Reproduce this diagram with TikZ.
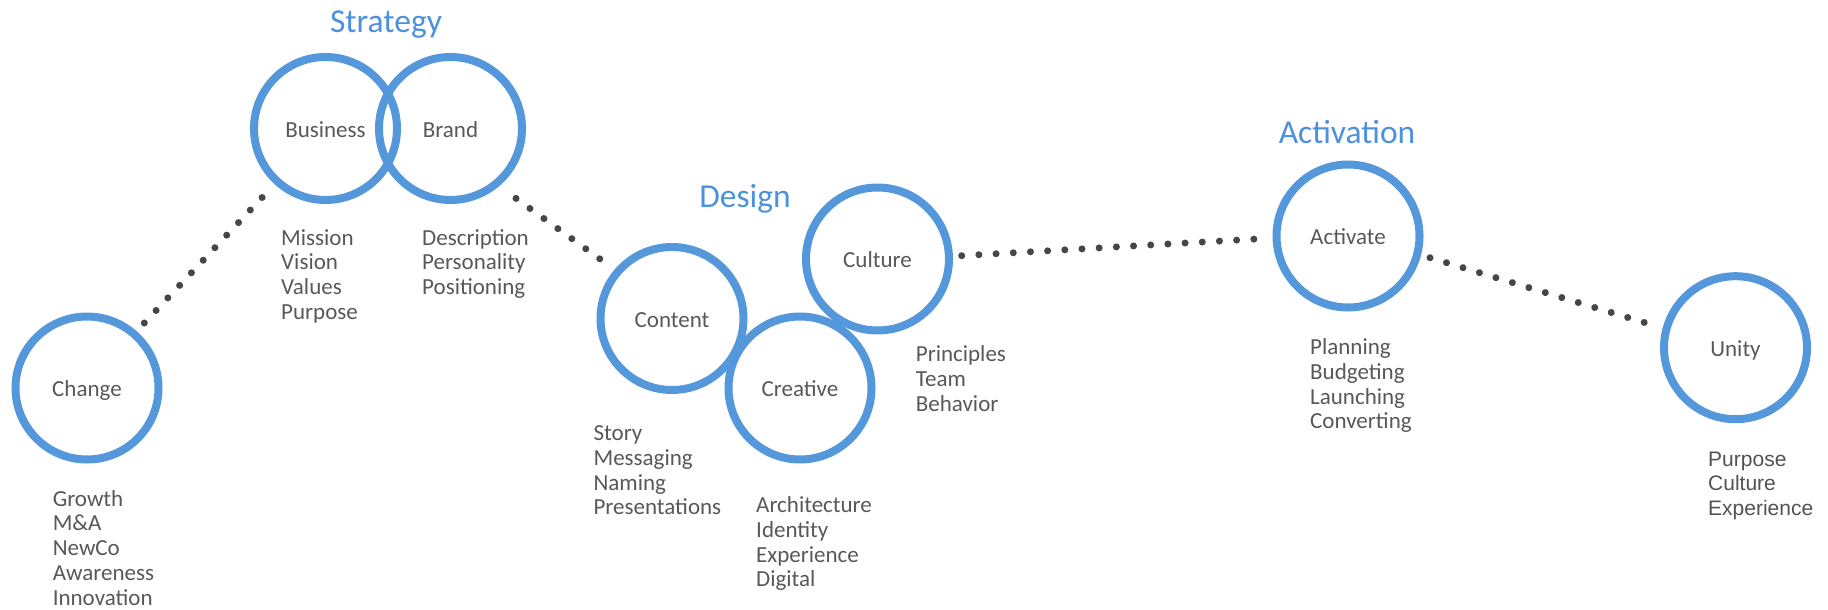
\documentclass[tikz,border=0pt]{standalone}
\usepackage{fontspec}
\setmainfont{Carlito}
\newfontfamily\uarial{Liberation Sans}
\usetikzlibrary{calc}
\definecolor{ringblue}{RGB}{84,152,219}
\definecolor{titleblue}{RGB}{76,145,222}
\definecolor{txtgray}{RGB}{88,88,88}
\definecolor{dotgray}{RGB}{70,70,70}
\begin{document}
\begin{tikzpicture}[x=1pt,y=-1pt,
  ring/.style={circle, draw=ringblue, line width=8pt, minimum size=143pt, inner sep=0pt,
    text=txtgray, font=\fontsize{23}{25}\selectfont, text height=17.6pt, text depth=0pt},
  sectitle/.style={anchor=base, text=titleblue, font=\fontsize{33.5}{36}\selectfont, inner sep=0pt},
  items/.style={anchor=north west, align=left, text=txtgray, font=\fontsize{23}{24.7}\selectfont, inner sep=0pt},
  dotline/.style={draw=dotgray, line width=7pt, line cap=round, dash pattern=on 0.01pt off 17.2pt}
]
\useasboundingbox (0,0) rectangle (1828,610);

% circles
\node[ring] (change)   at (87,388)     {Change};
\node[ring] (business) at (325.5,128.5) {Business};
\node[ring] (brand)    at (450.5,128.5) {Brand};
\node[ring] (content)  at (672,318.5)  {Content};
\node[ring] (creative) at (800,388)    {Creative};
\node[ring] (culture)  at (877.5,259)  {Culture};
\node[ring] (activate) at (1348,236)   {Activate};
\node[ring] (unity)    at (1735.5,347.7) {Unity};

% titles
\node[sectitle] (tstrategy)   at (386,32.5)  {Strategy};
\node[sectitle] (tdesign)     at (745,207)   {Design};
\node[sectitle] (tactivation) at (1347,143)  {Activation};

% lists
\node[items] (lchange)   at (52.6,488)  {\rule{0pt}{18pt}Growth\\M\&A\\NewCo\\Awareness\\Innovation};
\node[items] (lbusiness) at (281,227)   {\rule{0pt}{18pt}Mission\\Vision\\Values\\Purpose};
\node[items] (lbrand)    at (422,227)   {\rule{0pt}{18pt}Description\\Personality\\Positioning};
\node[items] (lcontent)  at (593.4,422.5) {\rule{0pt}{18pt}Story\\Messaging\\Naming\\Presentations};
\node[items] (lcreative) at (756,494.5) {\rule{0pt}{18pt}Architecture\\Identity\\Experience\\Digital};
\node[items] (lculture)  at (915.7,343.5) {\rule{0pt}{18pt}Principles\\Team\\Behavior};
\node[items] (lactivate) at (1310,336.5) {\rule{0pt}{18pt}Planning\\Budgeting\\Launching\\Converting};
\node[items, text=black!68, font=\uarial\fontsize{21}{24.5}\selectfont] (lunity) at (1708,448) {\rule{0pt}{18pt}Purpose\\Culture\\Experience};

% dotted connectors
\draw[dotline] ($(change)+(57.3,-65)$) -- ($(business)+(-62.5,68)$);
\draw[dotline] ($(brand)+(65.5,69.9)$) -- ($(content)+(-72,-59.5)$);
\draw[dotline] ($(culture)+(84.2,-3.3)$) -- ($(activate)+(-92,3)$);
\draw[dotline] ($(activate)+(82,21.7)$) -- ($(unity)+(-89.5,-24.7)$);
\end{tikzpicture}
\end{document}
